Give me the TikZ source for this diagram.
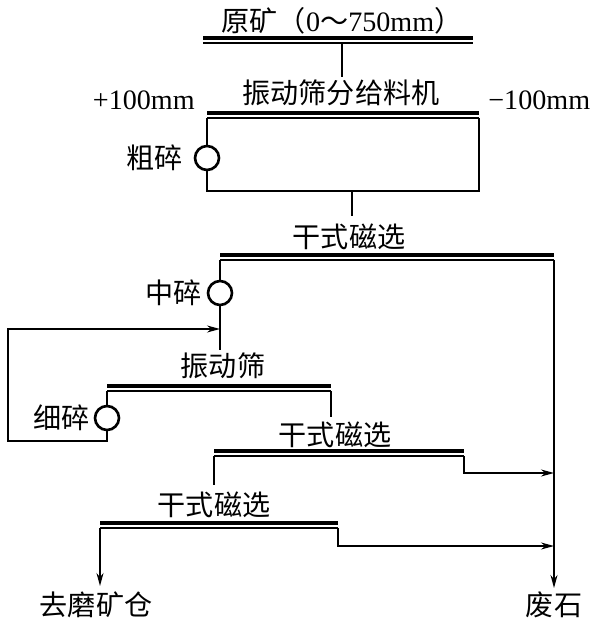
\documentclass[tikz,border=0pt]{standalone}
\usepackage{fontspec}
\setmainfont{Liberation Serif}
\newfontfamily\cjk{Noto Sans CJK SC}
\usetikzlibrary{arrows.meta,positioning}
\tikzset{
	flow/.style={line width=0.85pt},
	arr/.style={flow, -{Stealth[length=2.6mm,width=1.4mm]}},
	screenhi/.style={line width=1.8pt},
	screenlo/.style={line width=0.85pt},
	crusher/.style={circle, draw, line width=1.5pt, minimum size=0.48cm, inner sep=0pt},
	lbl/.style={inner sep=0pt, font=\fontsize{16}{19}\selectfont\cjk},
	lat/.style={inner sep=0pt, font=\fontsize{16}{19}\selectfont},
}
\begin{document}
\begin{tikzpicture}[x=0.02cm, y=-0.02cm]
	\useasboundingbox (0,0) rectangle (600,624);
	\node[lbl] (ore) at (342,21) {原矿（\rmfamily 0\cjk ～\rmfamily 750mm\cjk ）};
	\coordinate (s0l) at (203,38);
	\coordinate (s0r) at (473,38);
	\draw[screenhi] (s0l) -- (s0r);
	\draw[screenlo] ([yshift=-0.1cm]s0l) -- ([yshift=-0.1cm]s0r);
	\coordinate (f0) at (342,43);
	\coordinate (f1) at (342,77);
	\draw[flow] (f0) -- (f1);
	\node[lbl] (feeder) at (341,93) {振动筛分给料机};
	\node[lat, anchor=base east] (plus) at (195,110) {+100mm};
	\node[lat, anchor=base west] (minus) at (488,110) {−100mm};
	\coordinate (s1l) at (207,113);
	\coordinate (s1r) at (479,113);
	\draw[screenhi] (s1l) -- (s1r);
	\draw[screenlo] ([yshift=-0.1cm]s1l) -- ([yshift=-0.1cm]s1r);
	\node[crusher] (cc) at (207,158) {};
	\node[lbl, left=0.22cm of cc] (cclab) {粗碎};
	\coordinate (b1l) at (207,191);
	\coordinate (b1r) at (479,191);
	\draw[flow] ([yshift=-0.1cm]s1l) -- (cc) -- (b1l) -- (b1r) -- ([yshift=-0.1cm]s1r);
	\coordinate (o1) at (352,191);
	\coordinate (m1in) at (352,216);
	\draw[flow] (o1) -- (m1in);
	\node[lbl] (mag1) at (349,237) {干式磁选};
	\coordinate (s2l) at (220,255);
	\coordinate (s2r) at (554,255);
	\draw[screenhi] (s2l) -- (s2r);
	\draw[screenlo] ([yshift=-0.1cm]s2l) -- ([yshift=-0.1cm]s2r);
	\node[crusher] (mc) at (220,293) {};
	\node[lbl, left=0.1cm of mc] (mclab) {中碎};
	\coordinate (vin) at (220,350);
	\draw[flow] ([yshift=-0.1cm]s2l) -- (mc) -- (vin);
	\node[lbl] (vib) at (223,366) {振动筛};
	\coordinate (s3l) at (107,386);
	\coordinate (s3r) at (331,386);
	\draw[screenhi] (s3l) -- (s3r);
	\draw[screenlo] ([yshift=-0.1cm]s3l) -- ([yshift=-0.1cm]s3r);
	\node[crusher] (fc) at (107,418) {};
	\node[lbl, left=0.08cm of fc] (fclab) {细碎};
	\draw[flow] ([yshift=-0.1cm]s3l) -- (fc);
	\coordinate (fb1) at (107,441);
	\coordinate (fb2) at (8,441);
	\coordinate (fb3) at (8,329);
	\coordinate (fb4) at (220,329);
	\draw[arr] (fc) -- (fb1) -- (fb2) -- (fb3) -- (fb4);
	\coordinate (m2in) at (331,417);
	\draw[flow] ([yshift=-0.1cm]s3r) -- (m2in);
	\node[lbl] (mag2) at (335,435) {干式磁选};
	\coordinate (s4l) at (214,451);
	\coordinate (s4r) at (464,451);
	\draw[screenhi] (s4l) -- (s4r);
	\draw[screenlo] ([yshift=-0.1cm]s4l) -- ([yshift=-0.1cm]s4r);
	\coordinate (m3in) at (214,485);
	\draw[flow] ([yshift=-0.1cm]s4l) -- (m3in);
	\coordinate (t4a) at (464,473);
	\coordinate (t4b) at (554,473);
	\draw[arr] ([yshift=-0.1cm]s4r) -- (t4a) -- (t4b);
	\node[lbl] (mag3) at (214,505) {干式磁选};
	\coordinate (s5l) at (100,523);
	\coordinate (s5r) at (338,523);
	\draw[screenhi] (s5l) -- (s5r);
	\draw[screenlo] ([yshift=-0.1cm]s5l) -- ([yshift=-0.1cm]s5r);
	\node[lbl] (mill) at (96,605) {去磨矿仓};
	\node[lbl] (waste) at (554,605) {废石};
	\coordinate (c5) at (100,586);
	\draw[arr] ([yshift=-0.1cm]s5l) -- (c5);
	\coordinate (t5a) at (338,546);
	\coordinate (t5b) at (554,546);
	\draw[arr] ([yshift=-0.1cm]s5r) -- (t5a) -- (t5b);
	\coordinate (w) at (554,588);
	\draw[arr] ([yshift=-0.1cm]s2r) -- (w);
\end{tikzpicture}
\end{document}
